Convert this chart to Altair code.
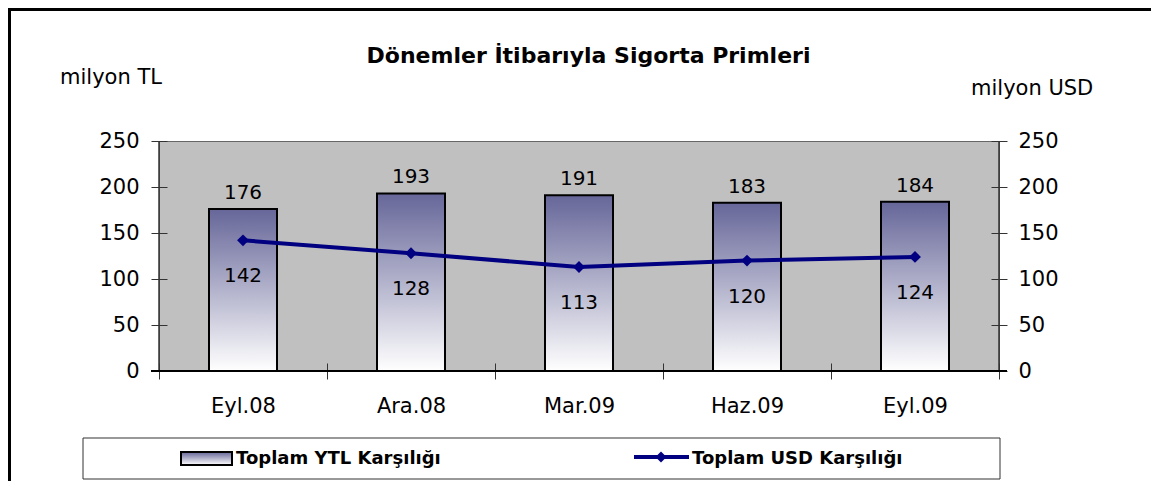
import altair as alt
import pandas as pd

# ---- data ----
periods = ["Eyl.08", "Ara.08", "Mar.09", "Haz.09", "Eyl.09"]
ytl_values = [176, 193, 191, 183, 184]
usd_values = [142, 128, 113, 120, 124]
y_ticks = [0, 50, 100, 150, 200, 250]

title_text = "Dönemler İtibarıyla Sigorta Primleri"
left_unit = "milyon TL"
right_unit = "milyon USD"
legend_bar = "Toplam YTL Karşılığı"
legend_line = "Toplam USD Karşılığı"

df = pd.DataFrame({"period": periods, "ytl": ytl_values, "usd": usd_values})
one = pd.DataFrame({"k": [0]})

W, H = 840, 230
FONT = "DejaVu Sans"
NAVY = "#000080"

grad = alt.LinearGradient(
    gradient="linear", x1=0, y1=0, x2=0, y2=1,
    stops=[alt.GradientStop(color="#666699", offset=0),
           alt.GradientStop(color="#ffffff", offset=1)],
)

x_enc = alt.X(
    "period:N", sort=periods,
    scale=alt.Scale(paddingInner=0, paddingOuter=0),
    axis=alt.Axis(title=None, labelAngle=0, domain=False, tickBand="extent",
                  tickSize=16, offset=-8, labelPadding=16, labelFont=FONT,
                  labelFontSize=21, labelColor="black", tickColor="#333333",
                  grid=False),
)


def y_axis(orient, pad):
    return alt.Axis(orient=orient, values=y_ticks, title=None, domain=False,
                    tickSize=16, offset=-8, labelPadding=pad, labelFont=FONT,
                    labelFontSize=21, labelColor="black", tickColor="#333333",
                    grid=False)


yl = alt.Y("ytl:Q", scale=alt.Scale(domain=[0, 250], nice=False), axis=y_axis("left", 12))
yr = alt.Y("usd:Q", scale=alt.Scale(domain=[0, 250], nice=False), axis=y_axis("right", 11))

base = alt.Chart(df)

bars = base.mark_bar(width=68, fill=grad, stroke="black", strokeWidth=2).encode(x=x_enc, y=yl)
bar_labels = base.mark_text(font=FONT, fontSize=20, color="black",
                            baseline="alphabetic", dy=-10).encode(x=x_enc, y=yl, text="ytl:Q")
left = alt.layer(bars, bar_labels)

line = base.mark_line(
    color=NAVY, strokeWidth=4,
    point=alt.OverlayMarkDef(shape="diamond", size=140, filled=True, color=NAVY, opacity=1),
).encode(x=x_enc, y=yr)
line_labels = base.mark_text(font=FONT, fontSize=20, color="black",
                             baseline="alphabetic", dy=42).encode(x=x_enc, y=yr, text="usd:Q")
right = alt.layer(line, line_labels)

ann = alt.Chart(one)

# axis lines of the plot frame
frame = alt.layer(
    ann.mark_rule(color="#333333", strokeWidth=1.5).encode(x=alt.value(0), y=alt.value(0), y2=alt.value(H)),
    ann.mark_rule(color="#333333", strokeWidth=1.5).encode(x=alt.value(W), y=alt.value(0), y2=alt.value(H)),
    ann.mark_rule(color="black", strokeWidth=2).encode(x=alt.value(-8), x2=alt.value(W + 8), y=alt.value(H)),
)

# outer chart border (left and top visible in the reference)
border = alt.layer(
    ann.mark_rule(color="black", strokeWidth=3).encode(x=alt.value(-149.5), y=alt.value(-131.5), y2=alt.value(345)),
    ann.mark_rule(color="black", strokeWidth=3).encode(x=alt.value(-151), x2=alt.value(995), y=alt.value(-131.5)),
)

texts = alt.layer(
    ann.mark_text(text=title_text, font=FONT, fontSize=22, fontWeight="bold", color="black",
                  align="center", baseline="alphabetic").encode(x=alt.value(429.5), y=alt.value(-78)),
    ann.mark_text(text=left_unit, font=FONT, fontSize=21, color="black",
                  align="left", baseline="alphabetic").encode(x=alt.value(-99), y=alt.value(-57)),
    ann.mark_text(text=right_unit, font=FONT, fontSize=21, color="black",
                  align="left", baseline="alphabetic").encode(x=alt.value(812), y=alt.value(-46)),
)

legend = alt.layer(
    ann.mark_rect(fill="white", stroke="#333333", strokeWidth=1).encode(
        x=alt.value(-76), x2=alt.value(841), y=alt.value(297), y2=alt.value(338)),
    ann.mark_rect(fill=grad, stroke="black", strokeWidth=2).encode(
        x=alt.value(22), x2=alt.value(73), y=alt.value(311), y2=alt.value(324)),
    ann.mark_text(text=legend_bar, font=FONT, fontSize=18, fontWeight="bold", color="black",
                  align="left", baseline="middle").encode(x=alt.value(77), y=alt.value(318)),
    ann.mark_rule(color=NAVY, strokeWidth=4).encode(x=alt.value(475), x2=alt.value(530), y=alt.value(316)),
    ann.mark_point(shape="diamond", filled=True, color=NAVY, size=120, opacity=1).encode(
        x=alt.value(502), y=alt.value(316)),
    ann.mark_text(text=legend_line, font=FONT, fontSize=18, fontWeight="bold", color="black",
                  align="left", baseline="middle").encode(x=alt.value(533), y=alt.value(318)),
)

chart = (
    alt.layer(left, frame, right, border, texts, legend)
    .resolve_scale(y="independent")
    .properties(
        width=W, height=H,
        autosize=alt.AutoSizeParams(type="none"),
        padding={"left": 151, "top": 133, "right": 152, "bottom": 110},
    )
    .configure_view(fill="#C0C0C0", stroke="#666666", strokeWidth=1)
)

chart.save("out.html", embed_options={"renderer": "svg", "actions": False})
